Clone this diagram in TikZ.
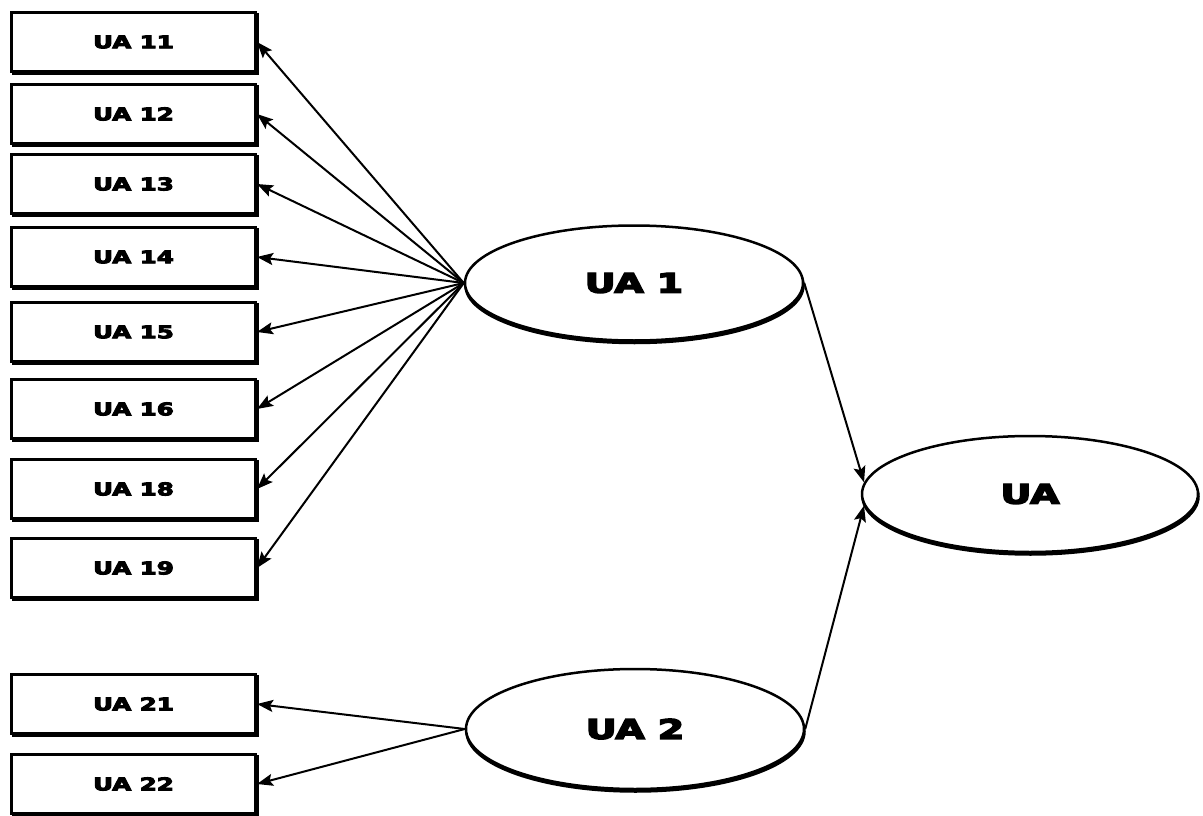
\documentclass[tikz,border=0pt]{standalone}
\usepackage{fontspec}
\newfontfamily\heavy{DejaVu Sans Bold}[FakeBold=5]
\usetikzlibrary{arrows.meta,shapes.geometric,shadows}
\newcommand{\sx}[1]{\scalebox{1.4}[1]{#1}}
\begin{document}
\begin{tikzpicture}[x=1pt,y=-1pt,
  box/.style={draw, line width=3pt, fill=white, minimum width=244pt, minimum height=59pt,
    inner sep=0pt, font=\heavy\fontsize{17.5}{20}\selectfont,
    copy shadow={shadow xshift=2pt, shadow yshift=-2pt, fill=black, draw=black}},
  oval/.style={draw, ellipse, line width=2.5pt, fill=white, inner sep=0pt,
    font=\heavy\fontsize{27}{30}\selectfont,
    copy shadow={shadow xshift=0.5pt, shadow yshift=-2.5pt, fill=black, draw=black}},
  arr/.style={line width=2pt, -{Stealth[length=16pt,width=12pt,inset=3pt]}}]
\useasboundingbox (0,0) rectangle (1203,816);
\node[box] (b11) at (133.5,42)  {\sx{UA 11}};
\node[box] (b12) at (133.5,114) {\sx{UA 12}};
\node[box] (b13) at (133.5,184) {\sx{UA 13}};
\node[box] (b14) at (133.5,257) {\sx{UA 14}};
\node[box] (b15) at (133.5,332) {\sx{UA 15}};
\node[box] (b16) at (133.5,409) {\sx{UA 16}};
\node[box] (b18) at (133.5,489) {\sx{UA 18}};
\node[box] (b19) at (133.5,568) {\sx{UA 19}};
\node[box] (b21) at (133.5,704) {\sx{UA 21}};
\node[box] (b22) at (133.5,784) {\sx{UA 22}};
\node[oval, minimum width=338pt, minimum height=115pt] (u1) at (634,283) {\sx{UA 1}};
\node[oval, minimum width=338pt, minimum height=120pt] (u2) at (635,729) {\sx{UA 2}};
\node[oval, minimum width=336pt, minimum height=116pt] (ua) at (1030,494) {\sx{UA}};
\foreach \b in {b11,b12,b13,b14,b15,b16,b18,b19}
  \draw[arr] (u1.west) -- (\b.east);
\draw[arr] (u2.west) -- (b21.east);
\draw[arr] (u2.west) -- (b22.east);
\draw[arr] (u1.east) -- (ua.176);
\draw[arr] (u2.east) -- (ua.184);
\end{tikzpicture}
\end{document}
